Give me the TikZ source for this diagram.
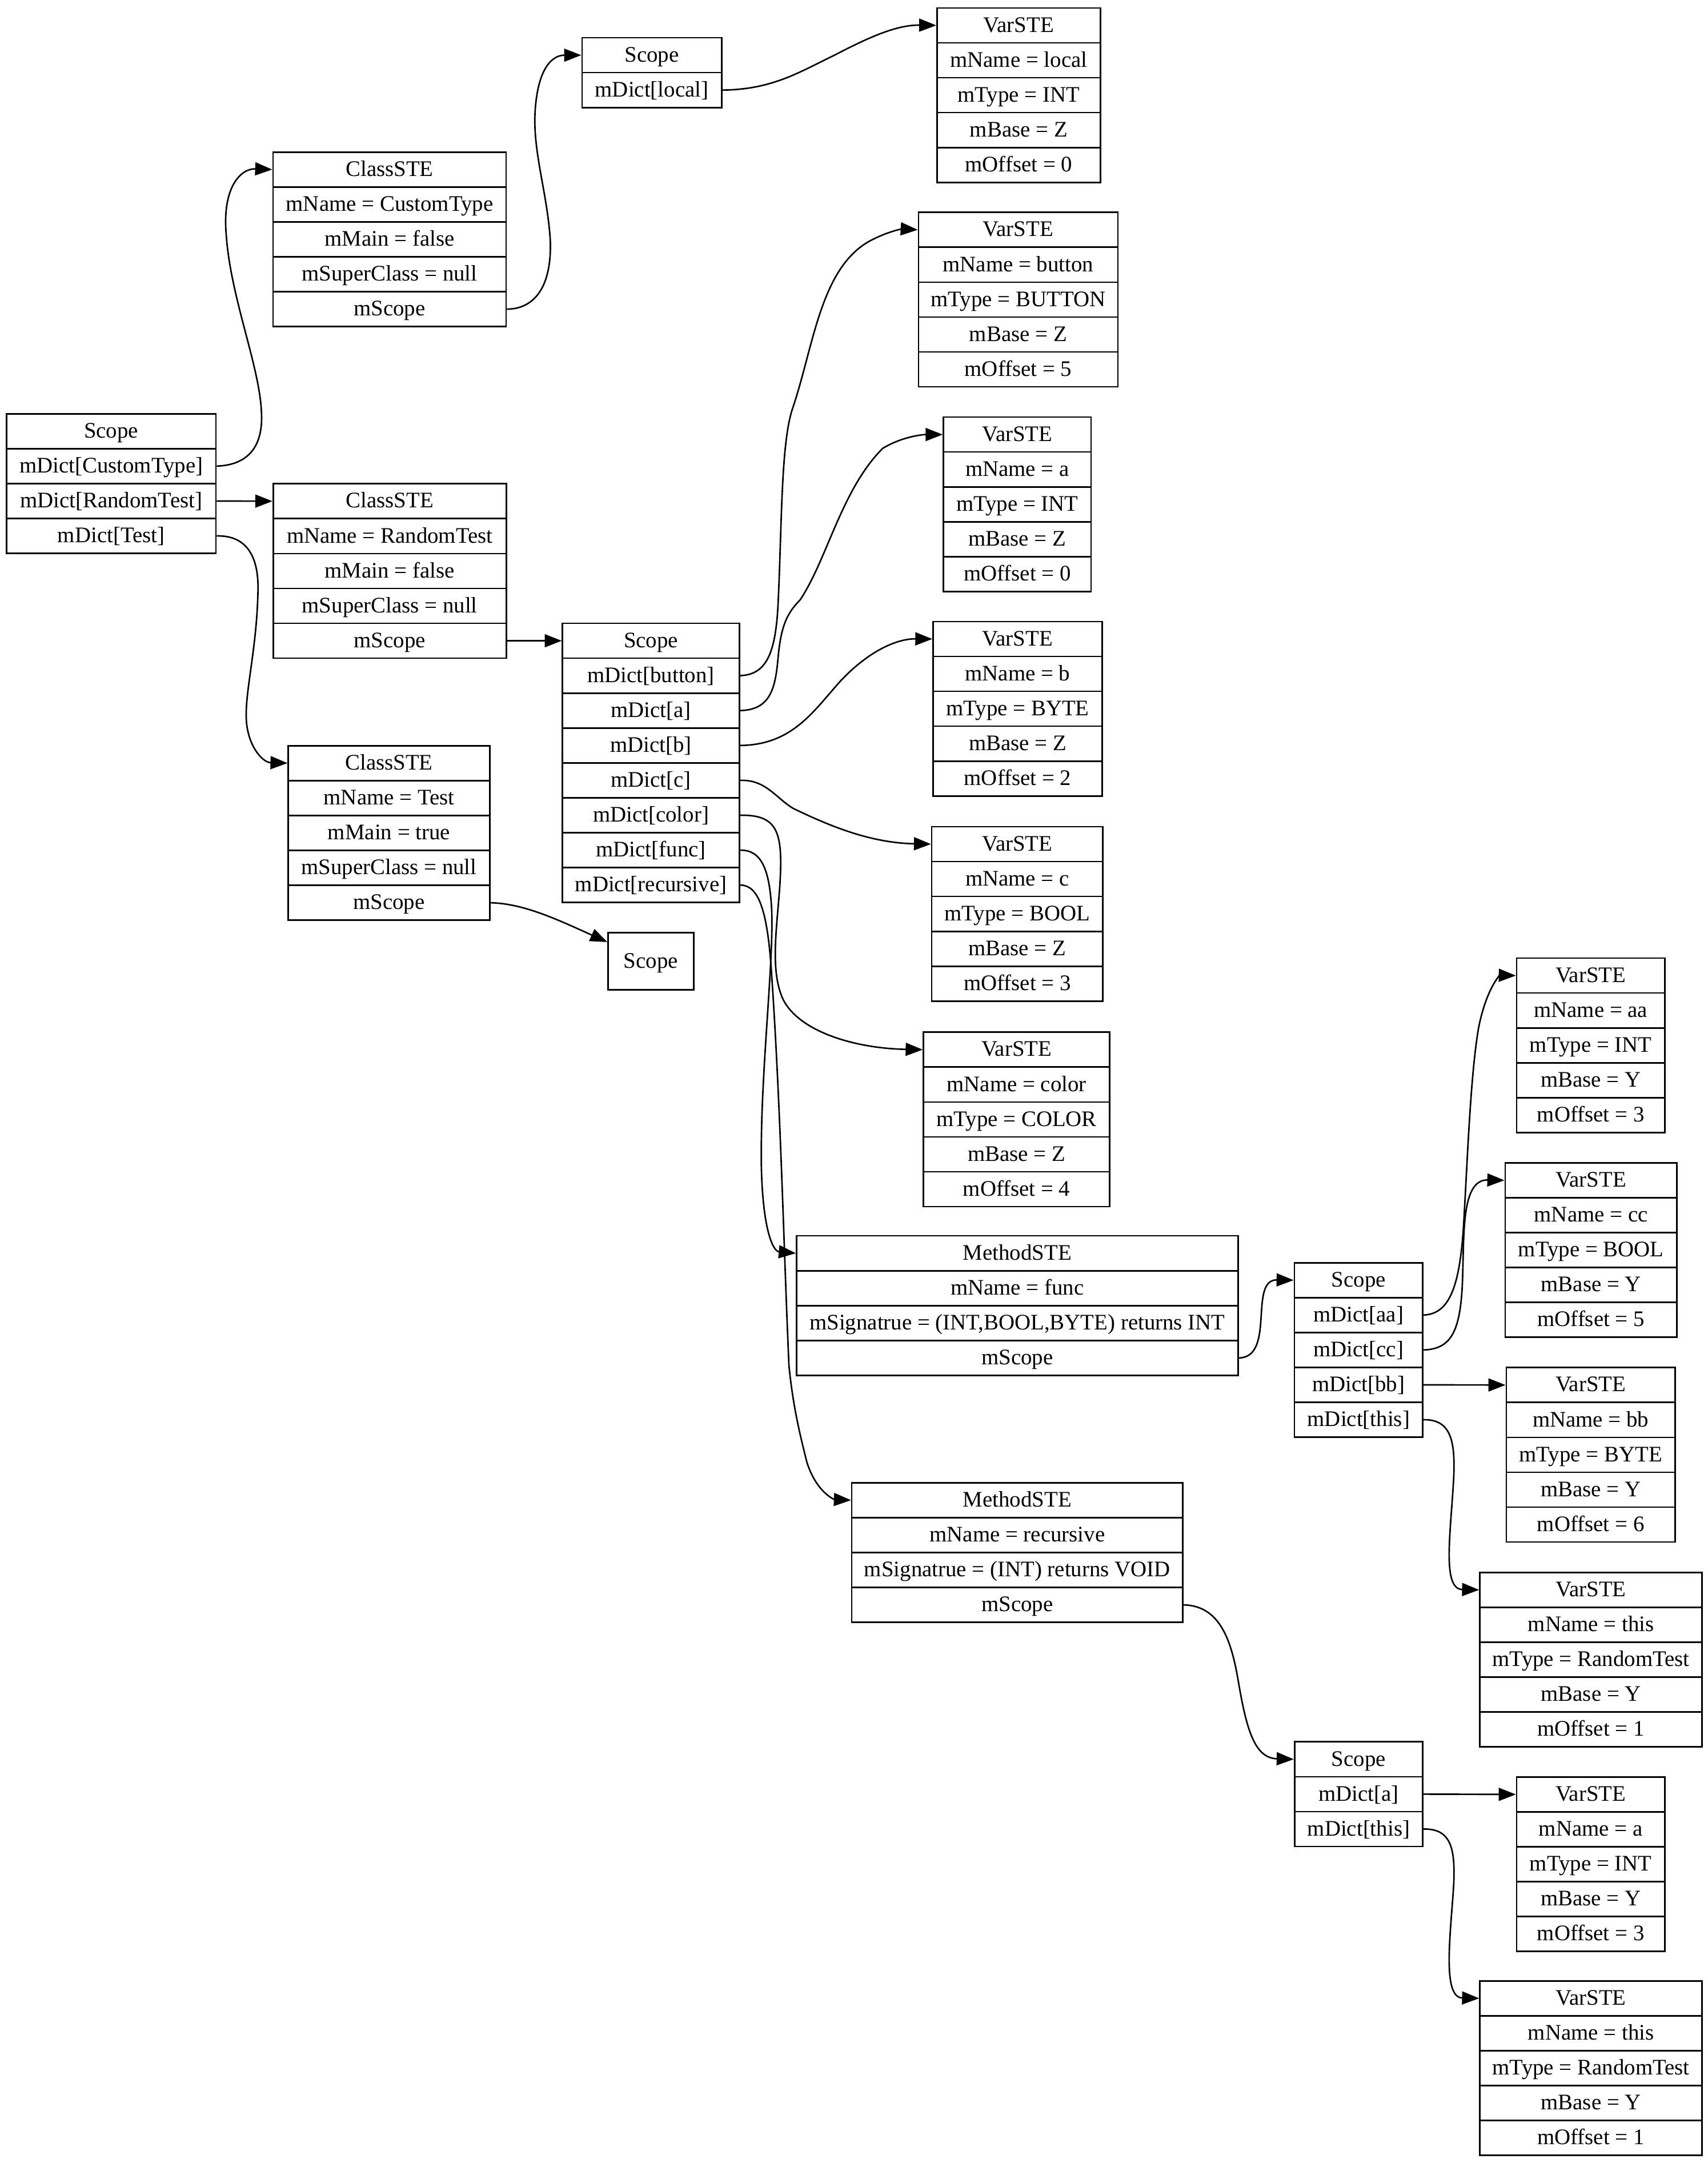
\documentclass[tikz,border=0pt]{standalone}
\usepackage{fontspec}
\setmainfont{Liberation Serif}
\usetikzlibrary{arrows.meta}
\tikzset{
  recrow/.style={draw, line width=1.1pt, inner sep=0pt, minimum height=25.3pt,
    text height=11.2pt, text depth=1.5pt, font=\fontsize{16.1pt}{18pt}\selectfont,
    anchor=north west},
  conn/.style={line width=1.1pt, -{Triangle[length=12.4pt,width=9.4pt]}},
}
\newcommand\recbox[5]{%
  \foreach \t [count=\i] in {#5} {
    \node[recrow, minimum width=#4pt] (#1-\i) at (#2,{#3+(\i-1)*25.3}) {\t};
  }}
\begin{document}
\begin{tikzpicture}[x=1pt,y=-1pt]
\fill[white] (0,0) rectangle (1238,1568);
\useasboundingbox (0,0) rectangle (1238,1568);

\recbox{root}{4.1}{299.4}{151.9}{Scope, mDict[CustomType], mDict[RandomTest], mDict[Test]}
\recbox{cct}{197.4}{109.7}{169}{ClassSTE, mName = CustomType, mMain = false, mSuperClass = null, mScope}
\recbox{crt}{197.5}{350.1}{169}{ClassSTE, mName = RandomTest, mMain = false, mSuperClass = null, mScope}
\recbox{ct}{208.5}{540}{146}{ClassSTE, mName = Test, mMain = true, mSuperClass = null, mScope}
\recbox{sl}{421.4}{26.8}{101.2}{Scope, mDict[local]}
\recbox{vl}{678.8}{5.2}{118.5}{VarSTE, mName = local, mType = INT, mBase = Z, mOffset = 0}
\recbox{srt}{407.3}{451.3}{128.2}{Scope, mDict[button], mDict[a], mDict[b], mDict[c], mDict[color], mDict[func], mDict[recursive]}
\node[recrow, minimum width=62.1pt, minimum height=41.5pt] (se) at (440.3,675.6) {Scope};
\recbox{vbtn}{665.4}{153.4}{144.5}{VarSTE, mName = button, mType = BUTTON, mBase = Z, mOffset = 5}
\recbox{va}{683.5}{301.8}{107}{VarSTE, mName = a, mType = INT, mBase = Z, mOffset = 0}
\recbox{vb}{676}{450}{122.5}{VarSTE, mName = b, mType = BYTE, mBase = Z, mOffset = 2}
\recbox{vc}{675}{598.7}{124}{VarSTE, mName = c, mType = BOOL, mBase = Z, mOffset = 3}
\recbox{vcol}{669}{747.7}{135}{VarSTE, mName = color, mType = COLOR, mBase = Z, mOffset = 4}
\recbox{mf}{577}{895.3}{320}{MethodSTE, mName = func, {mSignatrue = (INT,BOOL,BYTE) returns INT}, mScope}
\recbox{mr}{617}{1074.3}{240}{MethodSTE, mName = recursive, {mSignatrue = (INT) returns VOID}, mScope}
\recbox{sf}{937.9}{914.8}{93.1}{Scope, mDict[aa], mDict[cc], mDict[bb], mDict[this]}
\recbox{vaa}{1099}{694}{107.5}{VarSTE, mName = aa, mType = INT, mBase = Y, mOffset = 3}
\recbox{vcc}{1090.7}{842.4}{124.5}{VarSTE, mName = cc, mType = BOOL, mBase = Y, mOffset = 5}
\recbox{vbb}{1091.5}{990.8}{122.5}{VarSTE, mName = bb, mType = BYTE, mBase = Y, mOffset = 6}
\recbox{vt1}{1072.4}{1139.3}{161}{VarSTE, mName = this, mType = RandomTest, mBase = Y, mOffset = 1}
\recbox{sr}{938}{1262.1}{93}{Scope, mDict[a], mDict[this]}
\recbox{va2}{1099}{1287.6}{107.5}{VarSTE, mName = a, mType = INT, mBase = Y, mOffset = 3}
\recbox{vt2}{1072.4}{1435.4}{161}{VarSTE, mName = this, mType = RandomTest, mBase = Y, mOffset = 1}

% connectors
\draw[conn] (root-2.east) .. controls (183,337) and (191,320) .. (189.5,298)
  .. controls (188,265) and (167,215) .. (164,170)
  .. controls (161,135) and (175,122) .. (cct-1.west);
\draw[conn] (root-3.east) -- (crt-1.west);
\draw[conn] (root-4.east) .. controls (180,388) and (188,405) .. (187,430)
  .. controls (186,470) and (178,500) .. (178.5,520)
  .. controls (179,540) and (190,552.7) .. (ct-1.west);
\draw[conn] (cct-5.east) .. controls (386,224) and (400,210) .. (399,175)
  .. controls (397,140) and (386,110) .. (388,80)
  .. controls (390,50) and (400,40) .. (sl-1.west);
\draw[conn] (sl-2.east) .. controls (560,65) and (580,52) .. (605,40)
  .. controls (630,27) and (650,18) .. (vl-1.west);
\draw[conn] (crt-5.east) -- (srt-1.west);
\draw[conn] (ct-5.east) .. controls (380,655) and (405,667) .. ([yshift=14pt]se.west);
\draw[conn] (srt-2.east) .. controls (555,489) and (562,475) .. (564,440)
  .. controls (567,380) and (566,320) .. (575,295)
  .. controls (590,250) and (595,195) .. (630,175)
  .. controls (645,167) and (655,166) .. (vbtn-1.west);
\draw[conn] (srt-3.east) .. controls (558,514.6) and (562,500) .. (564,478)
  .. controls (566,455) and (570,445) .. (580,435)
  .. controls (600,405) and (610,355) .. (640,325)
  .. controls (655,316) and (670,315) .. (va-1.west);
\draw[conn] (srt-4.east) .. controls (575,540) and (590,515) .. (610,493)
  .. controls (630,472) and (650,463) .. (vb-1.west);
\draw[conn] (srt-5.east) .. controls (555,565) and (562,578) .. (575,586)
  .. controls (600,598) and (630,611) .. (vc-1.west);
\draw[conn] (srt-6.east) .. controls (560,590.5) and (566,600) .. (566,625)
  .. controls (566,660) and (556,700) .. (568,725)
  .. controls (580,748) and (620,760) .. (vcol-1.west);
\draw[conn] (srt-7.east) .. controls (552,616) and (558,630) .. (559.5,660)
  .. controls (561,700) and (551,780) .. (552,846)
  .. controls (553,890) and (560,907) .. (mf-1.west);
\draw[conn] (srt-8.east) .. controls (550,641.5) and (556,660) .. (559,700)
  .. controls (566,800) and (568,900) .. (572,990)
  .. controls (575,1020) and (580,1040) .. (585,1060)
  .. controls (592,1082) and (605,1087) .. (mr-1.west);
\draw[conn] (mf-4.east) .. controls (925,984) and (905,927.5) .. (sf-1.west);
\draw[conn] (sf-2.east) .. controls (1050,952.5) and (1058,935) .. (1061,890)
  .. controls (1064,840) and (1066,780) .. (1072,745)
  .. controls (1078,715) and (1088,707) .. (vaa-1.west);
\draw[conn] (sf-3.east) .. controls (1052,978) and (1058,965) .. (1060,935)
  .. controls (1062,900) and (1058,855) .. (vcc-1.west);
\draw[conn] (sf-4.east) -- (vbb-1.west);
\draw[conn] (sf-5.east) .. controls (1052,1028.7) and (1055,1045) .. (1054,1070)
  .. controls (1052,1110) and (1045,1152) .. (vt1-1.west);
\draw[conn] (mr-4.east) .. controls (885,1164) and (893,1190) .. (898,1220)
  .. controls (904,1255) and (910,1274.5) .. (sr-1.west);
\draw[conn] (sr-2.east) -- (va2-1.west);
\draw[conn] (sr-3.east) .. controls (1052,1325.5) and (1055,1340) .. (1054,1365)
  .. controls (1052,1400) and (1045,1448) .. (vt2-1.west);
\end{tikzpicture}
\end{document}
